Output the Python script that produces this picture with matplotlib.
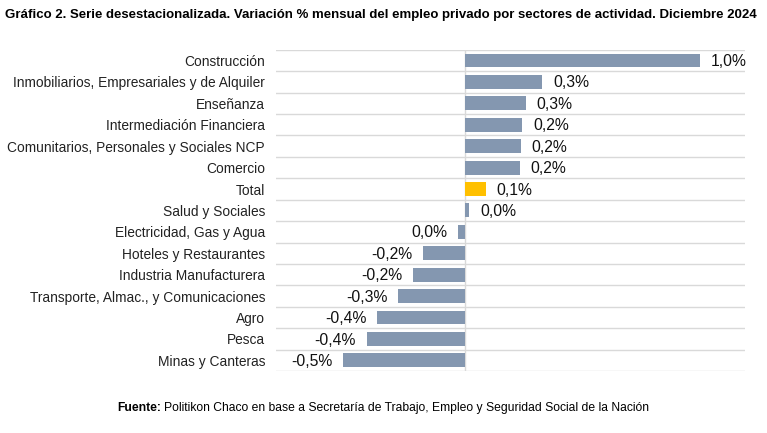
import numpy as np
import matplotlib.pyplot as plt

plt.rcParams["font.family"] = ["Liberation Sans", "DejaVu Sans"]

# datos
sectores = [
    "Construcción",
    "Inmobiliarios, Empresariales y de Alquiler",
    "Enseñanza",
    "Intermediación Financiera",
    "Comunitarios, Personales y Sociales NCP",
    "Comercio",
    "Total",
    "Salud y Sociales",
    "Electricidad, Gas y Agua",
    "Hoteles y Restaurantes",
    "Industria Manufacturera",
    "Transporte, Almac., y Comunicaciones",
    "Agro",
    "Pesca",
    "Minas y Canteras",
]
variacion = [1.00, 0.33, 0.26, 0.245, 0.24, 0.235, 0.09, 0.02, -0.027,
             -0.176, -0.22, -0.283, -0.374, -0.417, -0.516]

colores = ["#FFC000" if s == "Total" else "#8497B0" for s in sectores]

fig = plt.figure(figsize=(7.67, 4.33), dpi=100)
ax = fig.add_axes([0.36, 0.143, 0.611, 0.742])

y = np.arange(len(sectores))
ax.barh(y, variacion, height=0.65, color=colores, zorder=3)

for yi, v in zip(y, variacion):
    txt = f"{v:.1f}%".replace(".", ",")
    if txt.startswith("-0,0"):
        txt = txt[1:]
    if v >= 0:
        ax.text(v + 0.045, yi + 0.05, txt, va="center", ha="left", fontsize=11.3,
                color="#111111")
    else:
        ax.text(v - 0.045, yi + 0.05, txt, va="center", ha="right", fontsize=11.3,
                color="#111111")

ax.set_ylim(len(sectores) - 0.5, -0.5)
ax.set_xlim(-0.802, 1.191)
ax.set_yticks(y)
ax.set_yticklabels(sectores, fontsize=9.9, color="#222222")
ax.tick_params(axis="y", length=0, pad=8)
ax.set_xticks([])

# lineas horizontales entre filas
for b in np.arange(-0.5, len(sectores), 1.0):
    ax.axhline(b, color="#D9D9D9", lw=1, zorder=1)
ax.axvline(0, color="#D9D9D9", lw=1, zorder=2)

for s in ax.spines.values():
    s.set_visible(False)

fig.text(0.006, 0.965, "Gráfico 2. Serie desestacionalizada. Variación % mensual del empleo privado por sectores de actividad. Diciembre 2024",
         fontsize=9.5, fontweight="bold", va="center")

# fuente: parte en negrita y parte normal
t1 = fig.text(0.153, 0.058, "Fuente:", fontsize=8.7, fontweight="bold", va="center")
fig.canvas.draw()
bb = t1.get_window_extent()
x2 = (bb.x1 + 3) / fig.bbox.width
fig.text(x2, 0.058, "Politikon Chaco en base a Secretaría de Trabajo, Empleo y Seguridad Social de la Nación",
         fontsize=8.7, va="center")

fig.savefig("out.png", dpi=100)
